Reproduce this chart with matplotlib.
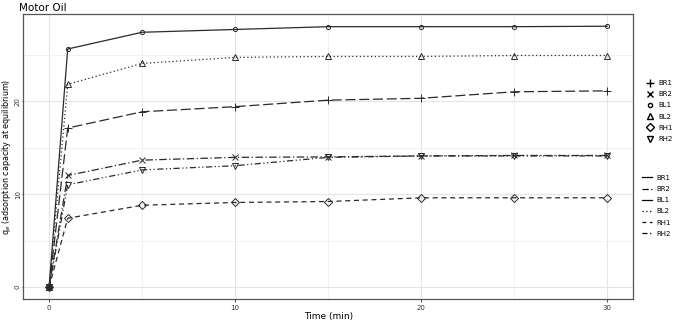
import numpy as np
import matplotlib
matplotlib.use("Agg")
from matplotlib import pyplot as plt
from matplotlib.lines import Line2D
from matplotlib.ticker import MultipleLocator

time = [0, 1, 5, 10, 15, 20, 25, 30]
names = ['BR1', 'BR2', 'BL1', 'BL2', 'RH1', 'RH2']
br1 = [0, 17.1, 18.85, 19.4, 20.1, 20.3, 21.0, 21.1]
br2 = [0, 12.0, 13.65, 13.95, 14.0, 14.1, 14.15, 14.15]
bl1 = [0, 25.6, 27.4, 27.7, 28.0, 28.0, 28.0, 28.05]
bl2 = [0, 21.8, 24.05, 24.7, 24.8, 24.8, 24.9, 24.9]
rh1 = [0, 7.4, 8.8, 9.1, 9.2, 9.6, 9.6, 9.6]
rh2 = [0, 11.0, 12.6, 13.05, 13.95, 14.1, 14.1, 14.1]
series = [br1, br2, bl1, bl2, rh1, rh2]

markers = ['+', 'x', 'o', '^', 'D', 'v']
msizes = [6, 4.5, 3, 5, 4, 5]
plot_styles = [(0, (8, 3)), (0, (6, 2, 1, 2)), '-', (0, (1, 2)), (0, (4, 3)), (0, (5, 2, 1, 2, 1, 2))]
legend_styles = ['-', (0, (5, 2)), '-', (0, (1, 2)), (0, (3, 3)), (0, (4, 2, 1, 2))]
col = '#2a2a2a'

fig = plt.figure(figsize=(6.78, 3.21), dpi=100)
ax = fig.add_axes([0.034, 0.068, 0.900, 0.888])

for ys, m, ms, ls in zip(series, markers, msizes, plot_styles):
    ax.plot(time, ys, color=col, linestyle=ls, linewidth=0.9, marker=m,
            markersize=ms, markerfacecolor='none', markeredgecolor=col, markeredgewidth=0.7)

ax.set_xlim(-1.4, 31.4)
ax.set_ylim(-1.3, 29.35)
ax.xaxis.set_major_locator(MultipleLocator(10))
ax.yaxis.set_major_locator(MultipleLocator(10))
ax.xaxis.set_minor_locator(MultipleLocator(5))
ax.yaxis.set_minor_locator(MultipleLocator(5))
ax.grid(which='major', color='#e4e4e4', linewidth=0.8)
ax.grid(which='minor', color='#efefef', linewidth=0.6)
ax.set_axisbelow(True)
for s in ax.spines.values():
    s.set_color('#555555')
    s.set_linewidth(0.9)
ax.tick_params(which='major', labelsize=5, length=2, color='#555555', pad=2, labelcolor='#333333')
ax.tick_params(axis='y', which='major', length=1, pad=0.5)
ax.tick_params(which='minor', length=0)
for lab in ax.get_yticklabels():
    lab.set_rotation(90)
    lab.set_va('center')

ax.set_xlabel('Time (min)', fontsize=6.5, labelpad=1)
ax.set_ylabel('q$_e$ (adsorption capacity at equilibrium)', fontsize=5.8)
ax.yaxis.set_label_coords(-0.016, 0.5)
fig.text(0.028, 0.975, 'Motor Oil', fontsize=7.5, ha='left', va='center')

shape_handles = [Line2D([], [], linestyle='none', marker=m, markersize=ms, color='black',
                        markerfacecolor='none', markeredgewidth=1.0)
                 for m, ms in zip(markers, msizes)]
line_handles = [Line2D([], [], linestyle=ls, color='black', linewidth=0.9) for ls in legend_styles]

leg1 = fig.legend(shape_handles, names, loc='upper left', bbox_to_anchor=(0.945, 0.77),
                  frameon=False, fontsize=5, handlelength=1.0, labelspacing=0.75, handletextpad=0.6)
leg2 = fig.legend(line_handles, names, loc='upper left', bbox_to_anchor=(0.937, 0.475),
                  frameon=False, fontsize=5, handlelength=1.5, labelspacing=0.75, handletextpad=0.6)

fig.savefig('out.png', dpi=100)
